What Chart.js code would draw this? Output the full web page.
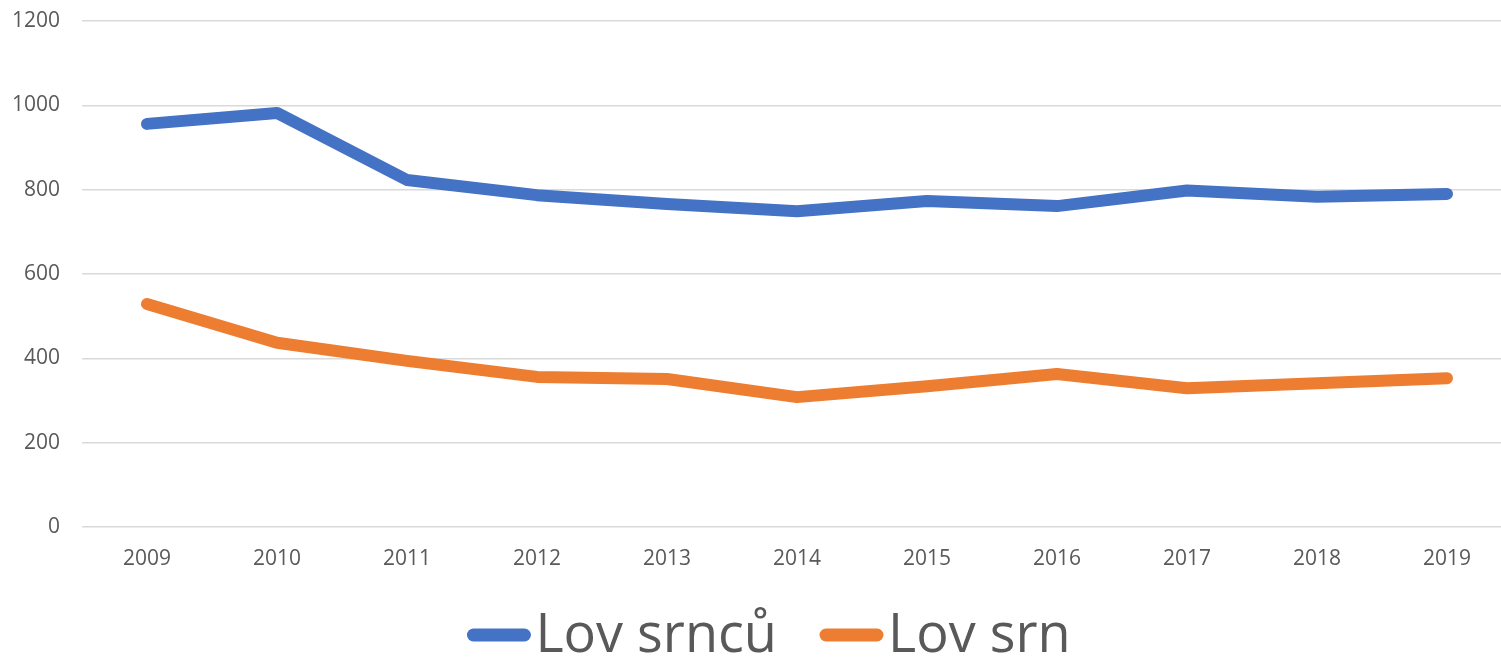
<!DOCTYPE html>
<html>
<head>
<meta charset="utf-8">
<script src="https://cdn.jsdelivr.net/npm/chart.js@4.4.1/dist/chart.umd.min.js"></script>
<style>
  html, body { margin: 0; padding: 0; background: #fff; overflow: hidden; }
  #wrap { width: 1512px; height: 658px; position: relative; }
</style>
</head>
<body>
<div id="wrap"><canvas id="chart"></canvas></div>
<script>
const years = ['2009', '2010', '2011', '2012', '2013', '2014', '2015', '2016', '2017', '2018', '2019'];
const lovSrncu = [956, 982, 823, 787, 766, 749, 773, 761, 798, 783, 790];
const lovSrn = [529, 437, 394, 356, 351, 308, 334, 363, 329, 341, 353];
const seriesNames = ['Lov srnců', 'Lov srn'];
const yTicks = [0, 200, 400, 600, 800, 1000, 1200];

const textColor = '#595959';

// legend drawn under the chart, Excel style: rounded line + big label
const bottomLegend = {
  id: 'bottomLegend',
  afterDraw(chart) {
    const ctx = chart.ctx;
    const lineW = 63, gapText = 5, gapItem = 43;
    ctx.save();
    ctx.font = '54px "Open Sans"';
    ctx.textBaseline = 'alphabetic';
    const items = chart.data.datasets.map(ds => ({
      label: ds.label, color: ds.borderColor, w: ctx.measureText(ds.label).width
    }));
    let total = 0;
    items.forEach((it, i) => { total += lineW + gapText + it.w + (i ? gapItem : 0); });
    let x = 769 - total / 2;
    const yLine = 635, yText = 652;
    items.forEach(it => {
      ctx.strokeStyle = it.color;
      ctx.lineWidth = 13;
      ctx.lineCap = 'round';
      ctx.beginPath();
      ctx.moveTo(x + 6, yLine);
      ctx.lineTo(x + lineW - 6, yLine);
      ctx.stroke();
      ctx.fillStyle = textColor;
      ctx.fillText(it.label, x + lineW + gapText, yText);
      x += lineW + gapText + it.w + gapItem;
    });
    ctx.restore();
  }
};

new Chart(document.getElementById('chart'), {
  type: 'line',
  data: {
    labels: years,
    datasets: [
      { label: seriesNames[0], data: lovSrncu, borderColor: '#4472C4', backgroundColor: '#4472C4' },
      { label: seriesNames[1], data: lovSrn, borderColor: '#ED7D31', backgroundColor: '#ED7D31' }
    ]
  },
  options: {
    responsive: true,
    maintainAspectRatio: false,
    animation: false,
    layout: { padding: { top: 21, right: 0, bottom: 0, left: 0 } },
    elements: {
      line: { borderWidth: 12, tension: 0, borderCapStyle: 'round', borderJoinStyle: 'round' },
      point: { radius: 0, hoverRadius: 0 }
    },
    plugins: {
      legend: { display: false },
      tooltip: { enabled: false }
    },
    scales: {
      x: {
        offset: true,
        grid: { display: false, drawTicks: false },
        border: { display: false },
        ticks: { color: textColor, font: { family: 'Open Sans', size: 21 }, padding: 19, maxRotation: 0 },
        afterFit: s => { s.height = 131; }
      },
      y: {
        min: 0,
        max: 1200,
        afterBuildTicks: s => { s.ticks = yTicks.map(v => ({ value: v })); },
        grid: { color: '#D9D9D9', lineWidth: 1.5, drawTicks: false },
        border: { display: false },
        ticks: { color: textColor, font: { family: 'Open Sans', size: 21 }, padding: 22, callback: v => String(v) },
        afterFit: s => { s.width = 82; s.paddingTop = 0; s.paddingBottom = 0; }
      }
    }
  },
  plugins: [bottomLegend]
});
</script>
</body>
</html>
